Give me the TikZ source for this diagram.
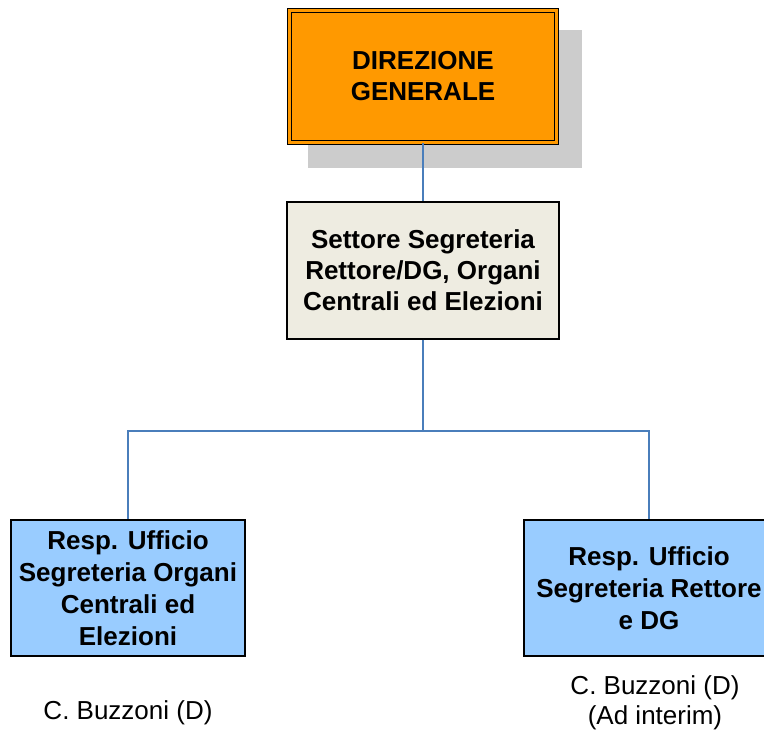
\documentclass[tikz,border=0pt]{standalone}
\usepackage{fontspec}
\setmainfont{Liberation Sans}
\definecolor{dgorange}{HTML}{FF9900}
\definecolor{settbeige}{HTML}{EEECE1}
\definecolor{uffblue}{HTML}{99CCFF}
\definecolor{linkblue}{HTML}{4A7EBB}
\definecolor{shadowgray}{HTML}{CCCCCC}
\begin{document}
\begin{tikzpicture}[x=1pt,y=-1pt,line join=miter,
box/.style={draw=black,line width=1.3pt,align=center,inner sep=0pt,font=\bfseries\fontsize{26}{31}\selectfont},
link/.style={draw=linkblue,line width=1.5pt},
person/.style={align=center,font=\fontsize{26}{30}\selectfont}]
\useasboundingbox (0,0) rectangle (764,734);
\fill[shadowgray] (308,30) rectangle (582,168);
\node[box,line width=1.2pt,fill=dgorange,double=dgorange,double distance=3pt,
    minimum width=267,minimum height=132] (dg) at (423,76.5) {DIREZIONE\\GENERALE};
\node[box,fill=settbeige,minimum width=272,minimum height=137] (sett) at (423,270.5)
    {Settore Segreteria\\Rettore/DG, Organi\\Centrali ed Elezioni};
\node[box,fill=uffblue,minimum width=234,minimum height=136,font=\bfseries\fontsize{26}{32}\selectfont] (org) at (128,588)
    {Resp. Ufficio\\Segreteria Organi\\Centrali ed\\Elezioni};
\node[box,fill=uffblue,minimum width=250,minimum height=136,font=\bfseries\fontsize{26}{32}\selectfont] (ret) at (649,588)
    {Resp. Ufficio\\Segreteria Rettore\\e DG};
\coordinate (split) at (423,431);
\draw[link] (dg.south) -- (sett.north);
\draw[link] (sett.south) -- (split) -| (org.north);
\draw[link] (split) -| (ret.north);
\node[person] (orgname) at (128,713) {C. Buzzoni (D)};
\node[person] (retname) at (655,703) {C. Buzzoni (D)\\(Ad interim)};
\end{tikzpicture}
\end{document}
